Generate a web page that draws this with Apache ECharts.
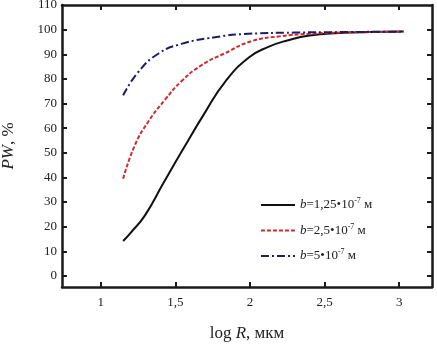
<!DOCTYPE html>
<html><head><meta charset="utf-8">
<script src="https://cdn.jsdelivr.net/npm/echarts@6/dist/echarts.min.js"></script>
<style>html,body{margin:0;padding:0;background:#fff}#c{width:437px;height:346px}</style>
</head><body><div id="c"></div>
<script>
const xTicks = [1, 1.5, 2, 2.5, 3];
const yTicks = [0, 10, 20, 30, 40, 50, 60, 70, 80, 90, 100, 110];
const xBlack = [1.15, 1.2, 1.295, 1.418, 1.54, 1.70, 1.832, 1.99, 2.123, 2.25, 2.40, 2.6, 2.8, 3.03];
const yBlack = [14.2, 17.5, 24.5, 37.5, 50.3, 66.5, 78.7, 88.6, 93.0, 95.6, 97.6, 98.6, 99.0, 99.2];
const xRed = [1.15, 1.228, 1.317, 1.43, 1.54, 1.676, 1.832, 2.01, 2.2, 2.4, 2.6, 2.8, 3.03];
const yRed = [39.5, 53.0, 62.5, 71.5, 79.0, 85.6, 90.4, 95.3, 97.3, 98.3, 98.8, 99.0, 99.2];
const xBlue = [1.15, 1.25, 1.385, 1.54, 1.765, 1.99, 2.3, 2.6, 3.03];
const yBlue = [73.3, 82.7, 90.2, 94.2, 96.9, 98.3, 98.8, 99.0, 99.2];
const names = ['b1', 'b2', 'b3'];
const legendText = {
  b1: '{i|b}{t|=1,25•10}{s|-7}{t| м}',
  b2: '{i|b}{t|=2,5•10}{s|-7}{t| м}',
  b3: '{i|b}{t|=5•10}{s|-7}{t| м}'
};
const zip = (a, b) => a.map((v, i) => [v, b[i]]);
const F = "'Liberation Serif', 'Times New Roman', serif";
const fmt = v => String(v).replace('.', ',');
const axisLine = {onZero: false, lineStyle: {color: '#1a1a1a', width: 2.5}};
const tick = {inside: true, length: 5, lineStyle: {width: 2, color: '#1a1a1a'}};
const chart = echarts.init(document.getElementById('c'));
chart.setOption({
  animation: false,
  grid: {left: 62, right: 5, top: 5, bottom: 59, outerBoundsMode: 'none', containLabel: false},
  legend: {
    orient: 'vertical', left: 255, top: 192, itemWidth: 34, itemHeight: 10, itemGap: 9.5,
    data: names, itemStyle: {opacity: 0},
    formatter: n => legendText[n],
    textStyle: {
      fontFamily: F, fontSize: 13, color: '#222', lineHeight: 16,
      rich: {
        i: {fontFamily: F, fontStyle: 'italic', fontSize: 13, color: '#222', lineHeight: 16},
        t: {fontFamily: F, fontSize: 13, color: '#222', lineHeight: 16},
        s: {fontFamily: F, fontSize: 8, color: '#222', verticalAlign: 'top', lineHeight: 16, padding: [0, 0, 6, 0]}
      }
    }
  },
  xAxis: [{
    type: 'value', min: 0.74, max: 3.22,
    name: '{t|log }{i|R}{t|, мкм}', nameLocation: 'middle', nameGap: 38,
    nameTextStyle: {rich: {t: {fontFamily: F, fontSize: 17, color: '#222'}, i: {fontFamily: F, fontSize: 17, fontStyle: 'italic', color: '#222'}}},
    axisLine: axisLine, splitLine: {show: false},
    axisTick: Object.assign({customValues: xTicks}, tick),
    axisLabel: {customValues: xTicks, formatter: fmt, fontFamily: F, fontSize: 13, color: '#222', margin: 9}
  }, {
    type: 'value', position: 'top', min: 0.74, max: 3.22,
    axisLine: axisLine, splitLine: {show: false},
    axisTick: Object.assign({customValues: xTicks}, tick),
    axisLabel: {show: false}
  }],
  yAxis: [{
    type: 'value', min: -4.5, max: 110,
    name: '{i|PW}{t|, %}', nameLocation: 'middle', nameGap: 45,
    nameTextStyle: {rich: {t: {fontFamily: F, fontSize: 17, color: '#222'}, i: {fontFamily: F, fontSize: 17, fontStyle: 'italic', color: '#222'}}},
    axisLine: axisLine, splitLine: {show: false},
    axisTick: Object.assign({customValues: yTicks.slice(0, 11)}, tick),
    axisLabel: {customValues: yTicks, fontFamily: F, fontSize: 13, color: '#222', margin: 5}
  }, {
    type: 'value', position: 'right', min: -4.5, max: 110,
    axisLine: axisLine, splitLine: {show: false},
    axisTick: Object.assign({customValues: yTicks.slice(0, 11)}, tick),
    axisLabel: {show: false}
  }],
  series: [
    {name: 'b1', type: 'line', smooth: 0.5, showSymbol: false, symbol: 'none', data: zip(xBlack, yBlack),
     lineStyle: {color: '#111', width: 2, type: 'solid'}, itemStyle: {color: '#111'}},
    {name: 'b2', type: 'line', smooth: 0.5, showSymbol: false, symbol: 'none', data: zip(xRed, yRed),
     lineStyle: {color: '#d42a2a', width: 2, type: [4, 2]}, itemStyle: {color: '#d42a2a'}},
    {name: 'b3', type: 'line', smooth: 0.5, showSymbol: false, symbol: 'none', data: zip(xBlue, yBlue),
     lineStyle: {color: '#1c1c6a', width: 2, type: [8, 3, 2, 3]}, itemStyle: {color: '#1c1c6a'}}
  ]
});
</script></body></html>
